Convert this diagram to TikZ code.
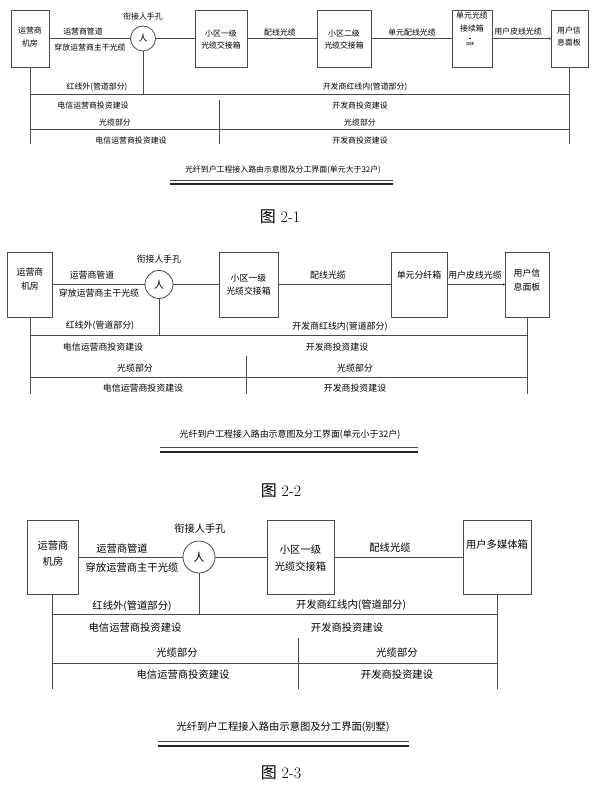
\documentclass[tikz,border=0pt]{standalone}
\usepackage{fontspec}
\newfontfamily\cjk{Noto Sans CJK SC}
\usetikzlibrary{arrows.meta}
\definecolor{lc}{HTML}{4A4A4A}
\begin{document}
\begin{tikzpicture}[x=1pt,y=-1pt,
  box/.style={draw=lc, line width=0.8pt, inner sep=0},
  hole/.style={draw=lc, line width=0.8pt, circle, inner sep=0},
  ln/.style={draw=lc, line width=0.7pt},
  fa/.style={font=\cjk\fontsize{7.9}{12.5}\selectfont, inner sep=0, align=center},
  fb/.style={font=\cjk\fontsize{8.9}{13.5}\selectfont, inner sep=0, align=center},
  fc/.style={font=\cjk\fontsize{10.3}{16.5}\selectfont, inner sep=0, align=center},
  figlbl/.style={font=\fontsize{16}{16}\selectfont, inner sep=0},
  thin/.style={draw=lc, line width=0.6pt},
  thick/.style={draw=black!85, line width=1.3pt},
  ]
\useasboundingbox (0,0) rectangle (598,791);

% ================= Figure 2-1 =================
\node[box, minimum width=38pt, minimum height=57pt] (a1) at (30,38.5) {};
\node[fa] (a1t) at (30,37) {运营商\\机房};
\node[hole, minimum size=25pt, font=\cjk\fontsize{9}{9}\selectfont] (ah) at (143,38.5) {人};
\node[box, minimum width=52pt, minimum height=57pt] (a2) at (221,38.5) {};
\node[fa] (a2t) at (221,39.5) {小区一级\\光缆交接箱};
\node[box, minimum width=54pt, minimum height=57pt] (a3) at (344,38.5) {};
\node[fa] (a3t) at (344,39.5) {小区二级\\光缆交接箱};
\node[box, minimum width=40pt, minimum height=57pt] (a4) at (472,38.5) {};
\node[fa] (a4t) at (472,22) {单元光缆\\接续箱};
\node[circle, fill=black, inner sep=0, minimum size=1.6pt] (a4d) at (470,38.5) {};
\node[font=\cjk\fontsize{4}{4}\selectfont, inner sep=0] (a4s) at (470,44) {熔接};
\node[box, minimum width=37pt, minimum height=57pt] (a5) at (569.5,38.5) {};
\node[fa] (a5t) at (569,36.5) {用户信\\息面板};

\draw[ln] (a1) -- (ah);
\draw[ln] (ah) -- (a2);
\draw[ln] (a2) -- (a3);
\draw[ln] (a3) -- (a4);
\draw[ln, -{Circle[length=2pt]}] (a4) -- (a5);

\node[fa] (aq1) at (143,17) {衔接人手孔};
\node[fa] (aq2) at (83,32) {运营商管道};
\node[fa] (aq3) at (90,47) {穿放运营商主干光缆};
\node[fa] (aq4) at (280,32) {配线光缆};
\node[fa] (aq5) at (412,32) {单元配线光缆};
\node[fa] (aq6) at (518,32) {用户皮线光缆};

\coordinate (aL1) at (30,94);
\coordinate (aR1) at (569.5,94);
\coordinate (aL2) at (30,129);
\coordinate (aR2) at (569.5,129);
\coordinate (aLb) at (30,144);
\coordinate (aRb) at (569.5,144);
\coordinate (aH) at (143,94);
\coordinate (aD1) at (219,100);
\coordinate (aD2) at (219,144);
\draw[ln] (a1) -- (aLb);
\draw[ln] (a5) -- (aRb);
\draw[ln] (aL1) -- (aR1);
\draw[ln] (aL2) -- (aR2);
\draw[ln] (ah) -- (aH);
\draw[ln] (aD1) -- (aD2);

\node[fa] (ar1) at (97,87) {红线外(管道部分)};
\node[fa] (ar2) at (365,87) {开发商红线内(管道部分)};
\node[fa] (ar3) at (93,106) {电信运营商投资建设};
\node[fa] (ar4) at (360,106) {开发商投资建设};
\node[fa] (ar5) at (115,122) {光缆部分};
\node[fa] (ar6) at (360,122) {光缆部分};
\node[fa] (ar7) at (131,140) {电信运营商投资建设};
\node[fa] (ar8) at (360,140) {开发商投资建设};

\node[fa] (atitle) at (283,170) {光纤到户工程接入路由示意图及分工界面(单元大于32户)};
\coordinate (at1a) at (170,180);
\coordinate (at1b) at (393,180);
\coordinate (at2a) at (170,184);
\coordinate (at2b) at (393,184);
\draw[thin] (at1a) -- (at1b);
\draw[thick] (at2a) -- (at2b);
\node[figlbl] (afig) at (280,217) {{\cjk 图}\ 2-1};

% ================= Figure 2-2 =================
\node[box, minimum width=45pt, minimum height=65pt] (b1) at (30,284.5) {};
\node[fb] (b1t) at (30,279) {运营商\\机房};
\node[hole, minimum size=28pt, font=\cjk\fontsize{10}{10}\selectfont] (bh) at (159,284.5) {人};
\node[box, minimum width=59pt, minimum height=65pt] (b2) at (248.5,284.5) {};
\node[fb] (b2t) at (248.5,284.5) {小区一级\\光缆交接箱};
\node[box, minimum width=56pt, minimum height=65pt] (b3) at (419,284.5) {};
\node[fb] (b3t) at (419,275) {单元分纤箱};
\node[box, minimum width=44pt, minimum height=65pt] (b4) at (527,284.5) {};
\node[fb] (b4t) at (527,280) {用户信\\息面板};

\draw[ln] (b1) -- (bh);
\draw[ln] (bh) -- (b2);
\draw[ln] (b2) -- (b3);
\draw[ln, -{Circle[length=2pt]}] (b3) -- (b4);

\node[fb] (bq1) at (159,259) {衔接人手孔};
\node[fb] (bq2) at (92,275) {运营商管道};
\node[fb] (bq3) at (99,293) {穿放运营商主干光缆};
\node[fb] (bq4) at (328,275) {配线光缆};
\node[fb] (bq6) at (475,275) {用户皮线光缆};

\coordinate (bL1) at (30,335);
\coordinate (bR1) at (527,335);
\coordinate (bL2) at (30,377);
\coordinate (bR2) at (527,377);
\coordinate (bLb) at (30,394);
\coordinate (bRb) at (527,394);
\coordinate (bH) at (159,335);
\coordinate (bD1) at (246,356);
\coordinate (bD2) at (246,394);
\draw[ln] (b1) -- (bLb);
\draw[ln] (b4) -- (bRb);
\draw[ln] (bL1) -- (bR1);
\draw[ln] (bL2) -- (bR2);
\draw[ln] (bh) -- (bH);
\draw[ln] (bD1) -- (bD2);

\node[fb] (br1) at (100,326) {红线外(管道部分)};
\node[fb] (br2) at (340,327) {开发商红线内(管道部分)};
\node[fb] (br3) at (103,347) {电信运营商投资建设};
\node[fb] (br4) at (337,347) {开发商投资建设};
\node[fb] (br5) at (135,368) {光缆部分};
\node[fb] (br6) at (355,368) {光缆部分};
\node[fb] (br7) at (143,388) {电信运营商投资建设};
\node[fb] (br8) at (355,388) {开发商投资建设};

\node[fb] (btitle) at (290,435) {光纤到户工程接入路由示意图及分工界面(单元小于32户)};
\coordinate (bt1a) at (160,447);
\coordinate (bt1b) at (418,447);
\coordinate (bt2a) at (160,452);
\coordinate (bt2b) at (418,452);
\draw[thin] (bt1a) -- (bt1b);
\draw[thick] (bt2a) -- (bt2b);
\node[figlbl] (bfig) at (281,491) {{\cjk 图}\ 2-2};

% ================= Figure 2-3 =================
\node[box, minimum width=51pt, minimum height=74pt] (c1) at (52.5,557) {};
\node[fc] (c1t) at (53,553.5) {运营商\\机房};
\node[hole, minimum size=32pt, font=\cjk\fontsize{11}{11}\selectfont] (ch) at (199,557) {人};
\node[box, minimum width=67pt, minimum height=74pt] (c2) at (300.5,557) {};
\node[fc] (c2t) at (300.5,558) {小区一级\\光缆交接箱};
\node[box, minimum width=68pt, minimum height=74pt] (c3) at (497,557) {};
\node[fc] (c3t) at (497,545) {用户多媒体箱};

\draw[ln] (c1) -- (ch);
\draw[ln] (ch) -- (c2);
\draw[ln] (c2) -- (c3);

\node[fc] (cq1) at (200,529) {衔接人手孔};
\node[fc] (cq2) at (122,549) {运营商管道};
\node[fc] (cq3) at (132,568) {穿放运营商主干光缆};
\node[fc] (cq4) at (390,548) {配线光缆};

\coordinate (cL1) at (52.5,614);
\coordinate (cR1) at (497,614);
\coordinate (cL2) at (52.5,663);
\coordinate (cR2) at (497,663);
\coordinate (cLb) at (52.5,689);
\coordinate (cRb) at (497,689);
\coordinate (cH) at (199,614);
\coordinate (cD1) at (298,638);
\coordinate (cD2) at (298,689);
\draw[ln] (c1) -- (cLb);
\draw[ln] (c3) -- (cRb);
\draw[ln] (cL1) -- (cR1);
\draw[ln] (cL2) -- (cR2);
\draw[ln] (ch) -- (cH);
\draw[ln] (cD1) -- (cD2);

\node[fc] (cr1) at (132,606) {红线外(管道部分)};
\node[fc] (cr2) at (351,605) {开发商红线内(管道部分)};
\node[fc] (cr3) at (135,628) {电信运营商投资建设};
\node[fc] (cr4) at (347,628) {开发商投资建设};
\node[fc] (cr5) at (177,653) {光缆部分};
\node[fc] (cr6) at (397,653) {光缆部分};
\node[fc] (cr7) at (183,675) {电信运营商投资建设};
\node[fc] (cr8) at (397,675) {开发商投资建设};

\node[fc] (ctitle) at (283,727) {光纤到户工程接入路由示意图及分工界面(别墅)};
\coordinate (ct1a) at (158,741);
\coordinate (ct1b) at (409,741);
\coordinate (ct2a) at (158,746);
\coordinate (ct2b) at (409,746);
\draw[thin] (ct1a) -- (ct1b);
\draw[thick] (ct2a) -- (ct2b);
\node[figlbl] (cfig) at (281,773) {{\cjk 图}\ 2-3};
\end{tikzpicture}
\end{document}
